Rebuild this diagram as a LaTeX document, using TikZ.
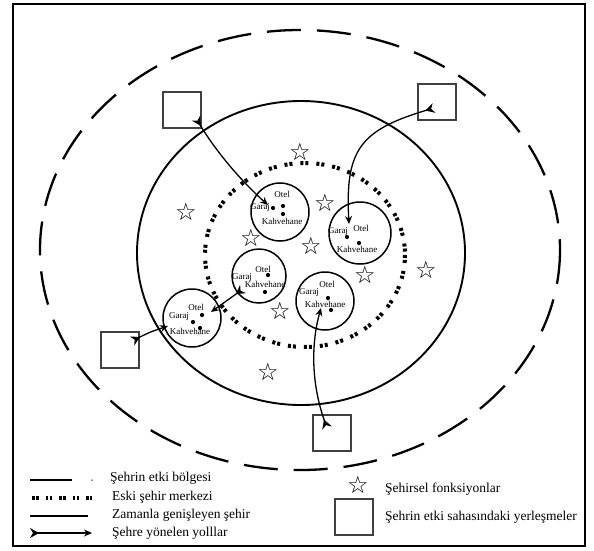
\documentclass[tikz,border=0pt]{standalone}
\usepackage{fontspec}
\setmainfont{Liberation Serif}
\usetikzlibrary{arrows.meta}
\tikzset{
  zone/.style={line width=2.3pt, dash pattern=on 34pt off 16pt},
  oldcenter/.style={line width=4pt, dash pattern=on 3pt off 2pt on 3pt off 8pt},
  city/.style={line width=1.9pt},
  town/.style={line width=1.5pt},
  settle/.style={draw=black!75, line width=1.2pt, minimum width=38pt, minimum height=36pt, inner sep=0pt},
  road/.style={line width=1.3pt, {Stealth[reversed,length=9pt,width=10pt,inset=3pt]}-{Stealth[length=8pt,width=7pt]}},
  lbl/.style={font=\fontsize{9}{9}\selectfont, inner sep=0pt},
  dot/.style={circle, fill=black, inner sep=0pt, minimum size=4.2pt},
  fstar/.style={font=\fontsize{24}{24}\selectfont, inner sep=0pt},
  legtext/.style={font=\fontsize{13.5}{14}\selectfont, anchor=west, inner sep=0pt},
}
\newfontfamily\symfont{DejaVu Sans}
\begin{document}
\begin{tikzpicture}[x=1pt,y=-1pt]
\useasboundingbox (0,0) rectangle (594,550);
\draw[line width=2pt] (13,4) rectangle (585,546);
% zones
\draw[zone] (300,250) ellipse [x radius=260, y radius=220];
\draw[city] (301,253) ellipse [x radius=164, y radius=152];
\draw[oldcenter] (305,255) ellipse [x radius=100, y radius=92];
% towns
\node[town, draw, circle, minimum size=58pt, inner sep=0pt] (c1) at (280,212) {};
\node[town, draw, circle, minimum size=62pt, inner sep=0pt] (c2) at (360,233) {};
\node[town, draw, circle, minimum size=54pt, inner sep=0pt] (c3) at (259,276) {};
\node[town, draw, circle, minimum size=58pt, inner sep=0pt] (c4) at (325,301) {};
\node[town, draw, circle, minimum size=58pt, inner sep=0pt] (c5) at (192,318) {};
% labels c1
\node[lbl] (c1o) at (282,194) {Otel};
\node[lbl] (c1g) at (260,207) {Garaj};
\node[lbl] (c1k) at (282,221) {Kahvehane};
\node[dot] (c1a) at (273,208) {};
\node[dot] (c1b) at (283,206) {};
\node[dot] (c1c) at (283,214) {};
% c2
\node[lbl] (c2o) at (361,228) {Otel};
\node[lbl] (c2g) at (338,231) {Garaj};
\node[lbl] (c2k) at (357,249) {Kahvehane};
\node[dot] (c2a) at (347,237) {};
\node[dot] (c2b) at (359,243) {};
% c3
\node[lbl] (c3o) at (263,269) {Otel};
\node[lbl] (c3g) at (242,277) {Garaj};
\node[lbl] (c3k) at (265,284) {Kahvehane};
\node[dot] (c3a) at (268,275) {};
\node[dot] (c3b) at (265,292) {};
% c4
\node[lbl] (c4o) at (327,284) {Otel};
\node[lbl] (c4g) at (309,292) {Garaj};
\node[lbl] (c4k) at (325,304) {Kahvehane};
\node[dot] (c4a) at (328,298) {};
\node[dot] (c4b) at (331,310) {};
% c5
\node[lbl] (c5o) at (196,307) {Otel};
\node[lbl] (c5g) at (179,316) {Garaj};
\node[lbl] (c5k) at (190,331) {Kahvehane};
\node[dot] (c5a) at (202,315) {};
\node[dot] (c5b) at (193,322) {};
\node[dot] (c5c) at (200,328) {};
% settlements
\node[settle] (s1) at (182,110) {};
\node[settle] (s2) at (437,102) {};
\node[settle] (s3) at (120,350) {};
\node[settle] (s4) at (332,433) {};
% road endpoints
\coordinate (t1) at (196,118);
\coordinate (h1) at (268,205);
\coordinate (t2) at (434,108);
\coordinate (h2) at (349,224);
\coordinate (t3) at (132,341);
\coordinate (h3) at (168,326);
\coordinate (t5) at (243,289);
\coordinate (h5) at (211,312);
\coordinate (t4) at (327,428);
\coordinate (h4) at (321,308);
\draw[road] (t1) .. controls (215,150) and (240,180) .. (h1);
\draw[road] (t2) .. controls (360,130) and (345,150) .. (h2);
\draw[road] (t3) .. controls (150,332) .. (h3);
\draw[road] (t5) -- (h5);
\draw[road] (t4) .. controls (310,380) and (312,340) .. (h4);
% stars
\foreach \i/\p in {1/{(300,152)},2/{(186,212)},3/{(325,203)},4/{(251,238)},5/{(311,246)},6/{(365,275)},7/{(426,270)},8/{(280,311)},9/{(268,372)}}
  \node[fstar] (st\i) at \p {\symfont ☆};
% legend
\coordinate (l1a) at (30,480); \coordinate (l1b) at (72,480);
\draw[line width=2pt] (l1a) -- (l1b);
\node[circle, fill=black, inner sep=0pt, minimum size=1.5pt] (l1d) at (92,480) {};
\node[legtext] (l1t) at (110,478) {Şehrin etki bölgesi};
\coordinate (l2a) at (32,498); \coordinate (l2b) at (92,498);
\draw[line width=3.5pt, dash pattern=on 2.5pt off 1.5pt on 2.5pt off 7pt] (l2a) -- (l2b);
\node[legtext] (l2t) at (112,497) {Eski şehir merkezi};
\coordinate (l3a) at (30,516); \coordinate (l3b) at (88,516);
\draw[line width=2pt] (l3a) -- (l3b);
\node[legtext] (l3t) at (112,515) {Zamanla genişleyen şehir};
\coordinate (l4a) at (30,533); \coordinate (l4b) at (92,533);
\draw[road, line width=1.8pt] (l4a) -- (l4b);
\node[legtext] (l4t) at (112,533) {Şehre yönelen yolllar};
\node[fstar] (lst) at (358,485) {\symfont ☆};
\node[legtext] (l5t) at (385,489) {Şehirsel fonksiyonlar};
\node[settle] (lsq) at (354,517) {};
\node[legtext] (l6t) at (385,517) {Şehrin etki sahasındaki yerleşmeler};
\end{tikzpicture}
\end{document}
